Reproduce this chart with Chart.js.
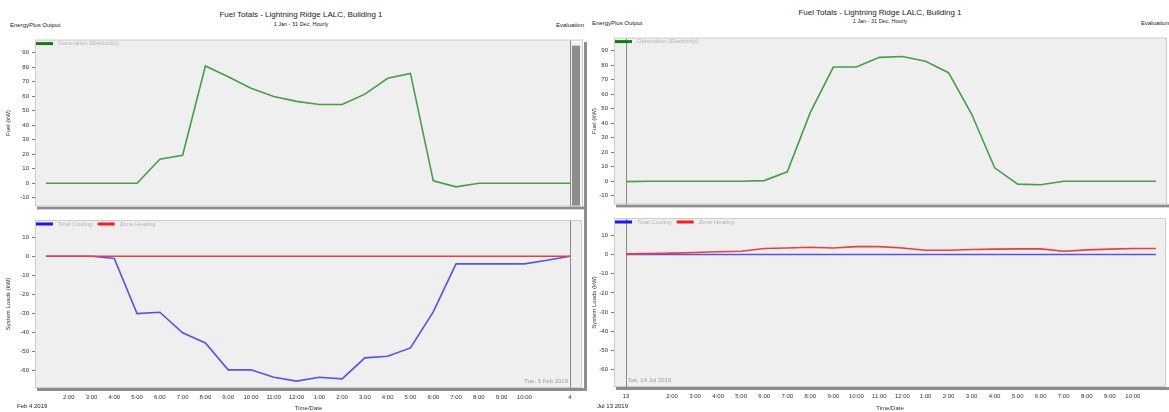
<!DOCTYPE html>
<html>
<head>
<meta charset="utf-8">
<script src="https://cdn.jsdelivr.net/npm/chart.js@4.4.1/dist/chart.umd.min.js"></script>
<style>
  html, body { margin: 0; padding: 0; background: #fff; }
  body { width: 1169px; height: 412px; position: relative; overflow: hidden; font-family: "Liberation Sans", Arial, sans-serif; color: #222; }
  .txt { position: absolute; white-space: nowrap; line-height: 1; }
  .title { font-size: 8px; transform: translateX(-50%); }
  .sub { font-size: 5.5px; transform: translateX(-50%); }
  .small { font-size: 6px; }
  canvas { position: absolute; display: block; }
  .divider { position: absolute; left: 584px; top: 42px; width: 3px; height: 349px; background: #8e8e8e; }
</style>
</head>
<body>

<div class="txt title" style="left:301px; top:11px">Fuel Totals - Lightning Ridge LALC, Building 1</div>
<div class="txt sub" style="left:301px; top:22px">1 Jan - 31 Dec, Hourly</div>
<div class="txt small" style="left:10px; top:22px">EnergyPlus Output</div>
<div class="txt small" style="left:556px; top:22px">Evaluation</div>

<div class="txt title" style="left:880px; top:9px">Fuel Totals - Lightning Ridge LALC, Building 1</div>
<div class="txt sub" style="left:880px; top:19px">1 Jan - 31 Dec, Hourly</div>
<div class="txt small" style="left:592px; top:20px">EnergyPlus Output</div>
<div class="txt small" style="left:1141px; top:20px">Evaluation</div>

<div class="divider"></div>

<canvas id="febFuel" width="584" height="180" style="left:0; top:33px"></canvas>
<canvas id="febLoads" width="584" height="199" style="left:0; top:213px"></canvas>
<canvas id="julFuel" width="583" height="180" style="left:586px; top:31px"></canvas>
<canvas id="julLoads" width="583" height="201" style="left:586px; top:211px"></canvas>

<div class="txt small" style="left:17px; top:403px">Feb 4 2019</div>
<div class="txt small" style="left:597px; top:403px">Jul 13 2019</div>

<script>
// hours shown on each day (left: 1:00 .. midnight, right: midnight .. 23:00)
const febHours = [1, 2, 3, 4, 5, 6, 7, 8, 9, 10, 11, 12, 13, 14, 15, 16, 17, 18, 19, 20, 21, 22, 23, 24]
const febTickLabels = ['', '2:00', '3:00', '4:00', '5:00', '6:00', '7:00', '8:00', '9:00', '10:00', '11:00', '12:00',
  '1:00', '2:00', '3:00', '4:00', '5:00', '6:00', '7:00', '8:00', '9:00', '10:00', '', '4']
const julHours = [0, 1, 2, 3, 4, 5, 6, 7, 8, 9, 10, 11, 12, 13, 14, 15, 16, 17, 18, 19, 20, 21, 22, 23]
const julTickLabels = ['13', '', '2:00', '3:00', '4:00', '5:00', '6:00', '7:00', '8:00', '9:00', '10:00', '11:00',
  '12:00', '1:00', '2:00', '3:00', '4:00', '5:00', '6:00', '7:00', '8:00', '9:00', '10:00', '']

const fuelTicks = [-10, 0, 10, 20, 30, 40, 50, 60, 70, 80, 90]
const loadTicks = [-60, -50, -40, -30, -20, -10, 0, 10]

// Feb 4 2019
const febGeneration = [0, 0, 0, 0, 0, 16.5, 19.3, 80.8, 73.4, 65.5, 59.8, 56.4,
  54.3, 54.3, 61.4, 72.3, 75.7, 1.6, -2.5, 0, 0, 0, 0, 0]
const febCooling = [0, 0, 0, -1.2, -30, -29.3, -40.1, -45.4, -59.5, -59.5, -63.4, -65.4,
  -63.4, -64.2, -53.2, -52.4, -48, -29.1, -4, -4, -4, -4, -2.1, 0]
const febHeating = [0, 0, 0, 0, 0, 0, 0, 0, 0, 0, 0, 0,
  0, 0, 0, 0, 0, 0, 0, 0, 0, 0, 0, 0]

// Jul 13 2019
const julGeneration = [-0.3, 0, 0, 0, 0, 0, 0.4, 6.5, 47.4, 78.7, 78.7, 85.4,
  86, 82.7, 74.8, 46.3, 9.2, -2, -2.5, 0, 0, 0, 0, 0]
const julCooling = [0, 0, 0, 0, 0, 0, 0, 0, 0, 0, 0, 0,
  0, 0, 0, 0, 0, 0, 0, 0, 0, 0, 0, 0]
const julHeating = [0.3, 0.5, 0.7, 1.0, 1.4, 1.7, 3.1, 3.4, 3.8, 3.4, 4.1, 4.1,
  3.4, 2.2, 2.2, 2.6, 2.8, 2.9, 2.9, 1.7, 2.4, 2.8, 3.1, 3.1]

Chart.defaults.font.family = '"Liberation Sans", Arial, sans-serif'
const tickFont = { size: 6 }

// plot background, frame/shadow, cursor line, legend and date stamp
const panelFrame = {
  id: 'panelFrame',
  beforeDraw(chart, args, opts) {
    const { ctx, chartArea: a } = chart
    const strip = opts.sideStrip || 0
    const outerRight = a.right + strip
    ctx.save()
    ctx.fillStyle = '#8d8d8d'
    ctx.fillRect(a.left + 2, a.bottom, outerRight - a.left + 1, 3)
    ctx.fillStyle = '#efefef'
    ctx.fillRect(a.left, a.top, a.width, a.height)
    if (strip) {
      ctx.fillStyle = '#f4f4f4'
      ctx.fillRect(a.right, a.top, strip, a.height)
      ctx.fillStyle = '#8d8d8d'
      ctx.fillRect(a.right, a.top + 6, 8, a.height - 6)
    }
    ctx.strokeStyle = '#cdcdcd'
    ctx.lineWidth = 1
    ctx.strokeRect(a.left + 0.5, a.top + 0.5, outerRight - a.left - 1, a.height - 1)
    ctx.restore()
  },
  beforeDatasetsDraw(chart, args, opts) {
    const { ctx, chartArea: a } = chart
    const x = Math.round(chart.scales.x.getPixelForValue(opts.cursor)) + 0.5
    ctx.save()
    ctx.strokeStyle = '#8a8a8a'
    ctx.lineWidth = 1
    ctx.beginPath()
    ctx.moveTo(x, a.top + 1)
    ctx.lineTo(x, a.bottom)
    ctx.stroke()
    ctx.restore()
  },
  afterDraw(chart, args, opts) {
    const { ctx, chartArea: a } = chart
    ctx.save()
    ctx.font = '6px "Liberation Sans", Arial, sans-serif'
    ctx.textBaseline = 'middle'
    let x = a.left + 1
    const y = a.top + 4
    chart.data.datasets.forEach(ds => {
      ctx.fillStyle = ds.backgroundColor
      ctx.fillRect(x, y - 1.5, 17, 3)
      x += 22
      ctx.fillStyle = '#b5b5b5'
      ctx.fillText(ds.label, x, y)
      x += ctx.measureText(ds.label).width + 5
    })
    if (opts.stamp) {
      ctx.fillStyle = '#9d9d9d'
      ctx.textAlign = opts.stampAlign
      const sx = opts.stampAlign === 'right' ? a.right - 14 : a.left + 14
      ctx.fillText(opts.stamp, sx, a.bottom - 6.5)
    }
    ctx.restore()
  }
}

function drawPanel(canvasId, o) {
  return new Chart(document.getElementById(canvasId), {
    type: 'line',
    data: {
      datasets: o.series.map(s => ({
        label: s.label,
        data: o.hours.map((h, i) => ({ x: h, y: s.values[i] })),
        borderColor: s.color,
        backgroundColor: s.key,
        borderWidth: 1.6,
        pointRadius: 0,
        tension: 0,
        fill: false,
        order: s.order || 0
      }))
    },
    options: {
      responsive: false,
      animation: false,
      events: [],
      layout: { padding: o.padding },
      plugins: {
        legend: { display: false },
        tooltip: { enabled: false },
        panelFrame: o.frame
      },
      scales: {
        x: {
          type: 'linear',
          min: o.xMin,
          max: o.xMax,
          display: o.showX,
          grid: { display: false, drawTicks: false },
          border: { display: false },
          afterBuildTicks: s => { s.ticks = o.hours.map(v => ({ value: v })) },
          afterFit: s => { s.height = o.xHeight },
          ticks: {
            autoSkip: false, maxRotation: 0, padding: 6, color: '#333', font: tickFont,
            callback: (v, i) => o.tickLabels[i]
          },
          title: { display: true, text: 'Time/Date', color: '#333', font: tickFont, padding: { top: o.xTitlePad, bottom: 0 } }
        },
        y: {
          min: o.yMin,
          max: o.yMax,
          afterBuildTicks: s => { s.ticks = o.yTicks.map(v => ({ value: v })) },
          afterFit: s => { s.width = o.yWidth },
          grid: { drawOnChartArea: false, tickLength: 3, color: '#777' },
          border: { display: false },
          ticks: { padding: 3, color: '#333', font: tickFont },
          title: { display: true, text: o.yTitle, color: '#333', font: tickFont, padding: { top: 5, bottom: 0 } }
        }
      }
    },
    plugins: [panelFrame]
  })
}

drawPanel('febFuel', {
  hours: febHours, tickLabels: febTickLabels, xMin: 0.52, xMax: 24.09, showX: false, xHeight: 0,
  yMin: -16, yMax: 99, yTicks: fuelTicks, yTitle: 'Fuel (kW)', yWidth: 35,
  padding: { left: 0, top: 6, right: 12, bottom: 5 },
  frame: { cursor: 24, sideStrip: 11 },
  series: [{ label: 'Generation (Electricity)', values: febGeneration, color: '#45a045', key: '#0f7d0f' }]
})

drawPanel('febLoads', {
  hours: febHours, tickLabels: febTickLabels, xMin: 0.52, xMax: 24.53, showX: true, xHeight: 24, xTitlePad: 2.5,
  yMin: -69, yMax: 19, yTicks: loadTicks, yTitle: 'System Loads (kW)', yWidth: 35,
  padding: { left: 0, top: 7, right: 2, bottom: 0 },
  frame: { cursor: 24, stamp: 'Tue, 5 Feb 2019', stampAlign: 'right' },
  series: [
    { label: 'Total Cooling', values: febCooling, color: '#5252f5', key: '#1616ff', order: 1 },
    { label: 'Zone Heating', values: febHeating, color: '#f53a3a', key: '#ff1a1a', order: 0 }
  ]
})

drawPanel('julFuel', {
  hours: julHours, tickLabels: julTickLabels, xMin: -0.52, xMax: 23.48, showX: false, xHeight: 0,
  yMin: -16, yMax: 99, yTicks: fuelTicks, yTitle: 'Fuel (kW)', yWidth: 28,
  padding: { left: 0, top: 6, right: 2, bottom: 4 },
  frame: { cursor: 0 },
  series: [{ label: 'Generation (Electricity)', values: julGeneration, color: '#45a045', key: '#0f7d0f' }]
})

drawPanel('julLoads', {
  hours: julHours, tickLabels: julTickLabels, xMin: -0.52, xMax: 23.44, showX: true, xHeight: 25, xTitlePad: 3.4,
  yMin: -69, yMax: 19, yTicks: loadTicks, yTitle: 'System Loads (kW)', yWidth: 28,
  padding: { left: 0, top: 7, right: 3, bottom: 0 },
  frame: { cursor: 0, stamp: 'Sat, 14 Jul 2019', stampAlign: 'left' },
  series: [
    { label: 'Total Cooling', values: julCooling, color: '#5252f5', key: '#1616ff', order: 1 },
    { label: 'Zone Heating', values: julHeating, color: '#f53a3a', key: '#ff1a1a', order: 0 }
  ]
})
</script>
</body>
</html>
